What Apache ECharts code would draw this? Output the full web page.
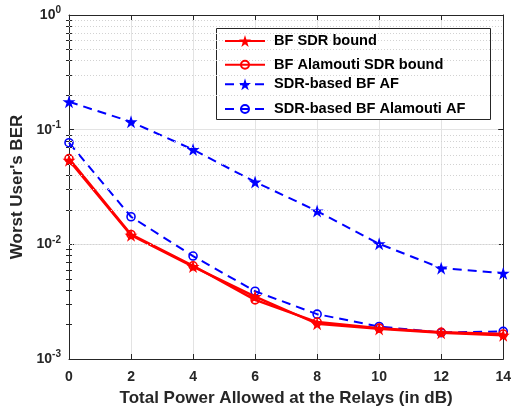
<!DOCTYPE html>
<html>
<head>
<meta charset="utf-8">
<script src="https://cdn.jsdelivr.net/npm/echarts@6/dist/echarts.min.js"></script>
<style>
  html, body { margin: 0; padding: 0; background: #fff; }
  #chart { width: 514px; height: 412px; }
</style>
</head>
<body>
<div id="chart"></div>
<script>
// Total power allowed at the relays (dB)
const powerDb = [0, 2, 4, 6, 8, 10, 12, 14];

// Worst user's bit error rate for each scheme
const bfSdrBound        = [0.054, 0.0120, 0.0064, 0.0035, 0.00203, 0.00183, 0.00169, 0.00161];
const bfAlamoutiBound   = [0.056, 0.0122, 0.0065, 0.00328, 0.00210, 0.00186, 0.00171, 0.00165];
const sdrBfAf           = [0.175, 0.117, 0.067, 0.035, 0.0195, 0.0101, 0.0062, 0.0056];
const sdrBfAlamoutiAf   = [0.077, 0.0174, 0.0079, 0.0039, 0.00246, 0.00192, 0.00170, 0.00174];

const seriesNames = ['BF SDR bound', 'BF Alamouti SDR bound', 'SDR-based BF AF', 'SDR-based BF Alamouti AF'];

// Log-axis decades and the in-between minor values
const decades = [0.001, 0.01, 0.1, 1];
const minorValues = [];
for (let d = 0; d < decades.length - 1; d++) {
  for (let m = 2; m <= 9; m++) minorValues.push(+(decades[d] * m).toPrecision(3));
}

const FONT = '"Liberation Sans", Arial, Helvetica, sans-serif';
const STAR = 'path://M50,0 L61.2,34.55 L97.55,34.55 L68.2,55.9 L79.4,90.45 L50,69.1 L20.6,90.45 L31.8,55.9 L2.45,34.55 L38.8,34.55 Z';
const RED = '#ff0000';
const BLUE = '#0000ff';
const INK = '#262626';

const pairs = arr => powerDb.map((x, i) => [x, arr[i]]);

// Legend: one entry per row inside a shared framed box
const LEGEND_BOX = { x: 216, y: 28, w: 274, h: 91 };
const legendRows = [41, 62.3, 84.3, 106.5];
const legendIconHeight = [15, 10, 15, 10];
const legends = seriesNames.map((name, i) => ({
  data: [name],
  left: 224,
  top: legendRows[i] - legendIconHeight[i] / 2,
  padding: 0,
  itemWidth: 40,
  itemHeight: legendIconHeight[i],
  selectedMode: false,
  z: 6,
  textStyle: {
    fontFamily: FONT, fontWeight: 'bold', fontSize: 14.6, color: '#000',
    lineHeight: legendIconHeight[i], padding: [0, 0, 0, 4]
  }
}));

const yBase = {
  type: 'log', logBase: 10, min: 0.001, max: 1,
  axisLine: { show: false },
  axisLabel: { show: false },
  splitLine: { show: false },
  axisTick: { show: false }
};

const chart = echarts.init(document.getElementById('chart'), null, { renderer: 'canvas' });

chart.setOption({
  backgroundColor: '#ffffff',
  animation: false,
  textStyle: { fontFamily: FONT },
  grid: { left: 69, right: 10, top: 15, bottom: 52, containLabel: false },
  legend: legends,
  graphic: [{
    type: 'rect', z: 5, silent: true,
    shape: { x: LEGEND_BOX.x + 0.5, y: LEGEND_BOX.y + 0.5, width: LEGEND_BOX.w, height: LEGEND_BOX.h },
    style: { fill: '#ffffff', stroke: INK, lineWidth: 1 }
  }],
  xAxis: [
    {
      type: 'value', min: 0, max: 14, interval: 2,
      name: 'Total Power Allowed at the Relays (in dB)',
      nameLocation: 'middle', nameGap: 31,
      nameTextStyle: { fontFamily: FONT, fontWeight: 'bold', fontSize: 17, color: INK },
      axisLine: { show: true, onZero: false, lineStyle: { color: INK, width: 1 } },
      axisTick: { show: true, inside: true, length: 5, lineStyle: { color: INK } },
      axisLabel: { fontFamily: FONT, fontWeight: 'bold', fontSize: 14, color: INK, margin: 11 },
      splitLine: { show: true, lineStyle: { color: '#e3e3e3', width: 1 } }
    },
    {
      type: 'value', min: 0, max: 14, interval: 2, position: 'top',
      axisLine: { show: true, onZero: false, lineStyle: { color: INK, width: 1 } },
      axisTick: { show: true, inside: true, length: 5, lineStyle: { color: INK } },
      axisLabel: { show: false },
      splitLine: { show: false }
    }
  ],
  yAxis: [
    Object.assign({}, yBase, {
      position: 'left',
      name: "Worst User's BER",
      nameLocation: 'middle', nameGap: 37,
      nameTextStyle: { fontFamily: FONT, fontWeight: 'bold', fontSize: 17, color: INK },
      axisLine: { show: true, onZero: false, lineStyle: { color: INK, width: 1 } },
      axisTick: { show: true, inside: true, length: 5, lineStyle: { color: INK } },
      splitLine: { show: true, lineStyle: { color: '#e3e3e3', width: 1 } },
      axisLabel: {
        show: true, margin: 8,
        formatter: v => '{b|10}{e|' + Math.round(Math.log10(v)) + '}',
        rich: {
          b: { fontFamily: FONT, fontWeight: 'bold', fontSize: 14, color: INK },
          e: { fontFamily: FONT, fontWeight: 'bold', fontSize: 10, color: INK, padding: [0, 0, 9, 0] }
        }
      }
    }),
    Object.assign({}, yBase, {
      position: 'left',
      axisTick: { show: true, inside: true, length: 3, customValues: minorValues, lineStyle: { color: INK } }
    }),
    Object.assign({}, yBase, {
      position: 'right',
      axisLine: { show: true, onZero: false, lineStyle: { color: INK, width: 1 } },
      axisTick: { show: true, inside: true, length: 5, lineStyle: { color: INK } }
    }),
    Object.assign({}, yBase, {
      position: 'right',
      axisTick: { show: true, inside: true, length: 3, customValues: minorValues, lineStyle: { color: INK } }
    })
  ],
  series: [
    {
      // minor grid lines of the log axis
      type: 'line', data: [], silent: true,
      markLine: {
        silent: true, symbol: 'none', label: { show: false },
        lineStyle: { color: '#d2d2d2', type: [1, 2], width: 1 },
        data: minorValues.map(v => ({ yAxis: v }))
      }
    },
    {
      name: seriesNames[2], type: 'line', data: pairs(sdrBfAf), z: 3,
      symbol: STAR, symbolSize: 13,
      lineStyle: { color: BLUE, width: 2, type: [9, 6] },
      itemStyle: { color: BLUE, borderColor: BLUE, borderWidth: 0 }
    },
    {
      name: seriesNames[3], type: 'line', data: pairs(sdrBfAlamoutiAf), z: 3,
      symbol: 'circle', symbolSize: 8,
      lineStyle: { color: BLUE, width: 2, type: [9, 6] },
      itemStyle: { color: 'rgba(0,0,0,0)', borderColor: BLUE, borderWidth: 1.6 }
    },
    {
      name: seriesNames[0], type: 'line', data: pairs(bfSdrBound), z: 4,
      symbol: STAR, symbolSize: 13,
      lineStyle: { color: RED, width: 2.4 },
      itemStyle: { color: RED, borderColor: RED, borderWidth: 0 }
    },
    {
      name: seriesNames[1], type: 'line', data: pairs(bfAlamoutiBound), z: 4,
      symbol: 'circle', symbolSize: 8,
      lineStyle: { color: RED, width: 2.4 },
      itemStyle: { color: 'rgba(0,0,0,0)', borderColor: RED, borderWidth: 1.6 }
    }
  ]
});
</script>
</body>
</html>
